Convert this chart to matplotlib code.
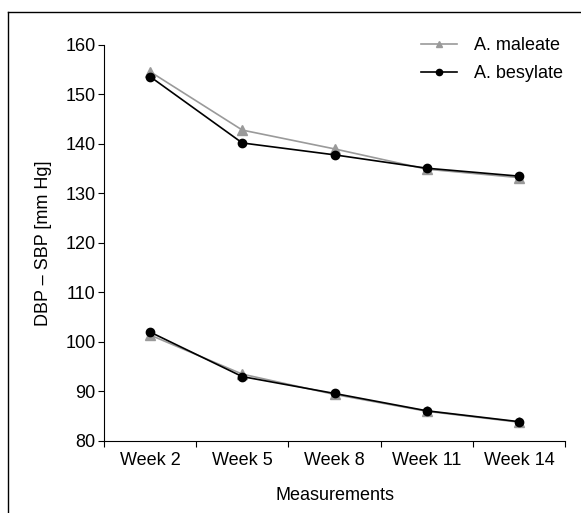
import numpy as np
import matplotlib.pyplot as plt
from matplotlib.lines import Line2D

plt.rcParams['font.family'] = ['Liberation Sans', 'DejaVu Sans']

weeks = ["Week 2", "Week 5", "Week 8", "Week 11", "Week 14"]
maleate_sbp = [154.6, 142.8, 139.0, 134.9, 133.2]
besylate_sbp = [153.6, 140.2, 137.8, 135.1, 133.5]
maleate_dbp = [101.4, 93.5, 89.4, 86.0, 83.8]
besylate_dbp = [102.0, 93.0, 89.6, 86.1, 83.9]

fig = plt.figure(figsize=(5.81, 5.13), dpi=100)
ax = fig.add_axes([0.179, 0.1404, 0.7935, 0.772])

x = np.arange(len(weeks)) + 0.5
grey = "#9a9a9a"
fs = 13

ax.plot(x, maleate_sbp, color=grey, marker="^", markersize=6.5, linewidth=1.2, label="A. maleate")
ax.plot(x, maleate_dbp, color=grey, marker="^", markersize=6.5, linewidth=1.2)
ax.plot(x, besylate_sbp, color="black", marker="o", markersize=6, linewidth=1.2, label="A. besylate")
ax.plot(x, besylate_dbp, color="black", marker="o", markersize=6, linewidth=1.2)

ax.set_xlim(0, 5)
ax.set_ylim(80, 160)
ax.set_xticks(np.arange(0, 6))
ax.set_xticklabels([])
ax.set_xticks(x, minor=True)
ax.set_xticklabels(weeks, minor=True)
ax.tick_params(axis="x", which="minor", length=0, labelsize=fs, pad=8)
ax.tick_params(axis="x", which="major", direction="out", length=4)
ax.set_yticks(np.arange(80, 161, 10))
ax.tick_params(axis="y", direction="out", length=4, labelsize=fs, pad=2)

ax.spines["top"].set_visible(False)
ax.spines["right"].set_visible(False)

ax.set_xlabel("Measurements", fontsize=fs, labelpad=13)
ax.set_ylabel("DBP – SBP [mm Hg]", fontsize=fs, labelpad=10)

ax.legend(loc="upper right", frameon=False, fontsize=fs, handlelength=2.0,
          bbox_to_anchor=(1.03, 1.06), markerscale=0.75, labelspacing=0.6,
          handletextpad=0.9)

# figure frame (left and top edges only)
fig.add_artist(Line2D([8 / 581, 8 / 581], [0, 1 - 12 / 513], color="black", linewidth=1))
fig.add_artist(Line2D([8 / 581, 1], [1 - 12 / 513, 1 - 12 / 513], color="black", linewidth=1))

plt.savefig("out.png", dpi=100)
